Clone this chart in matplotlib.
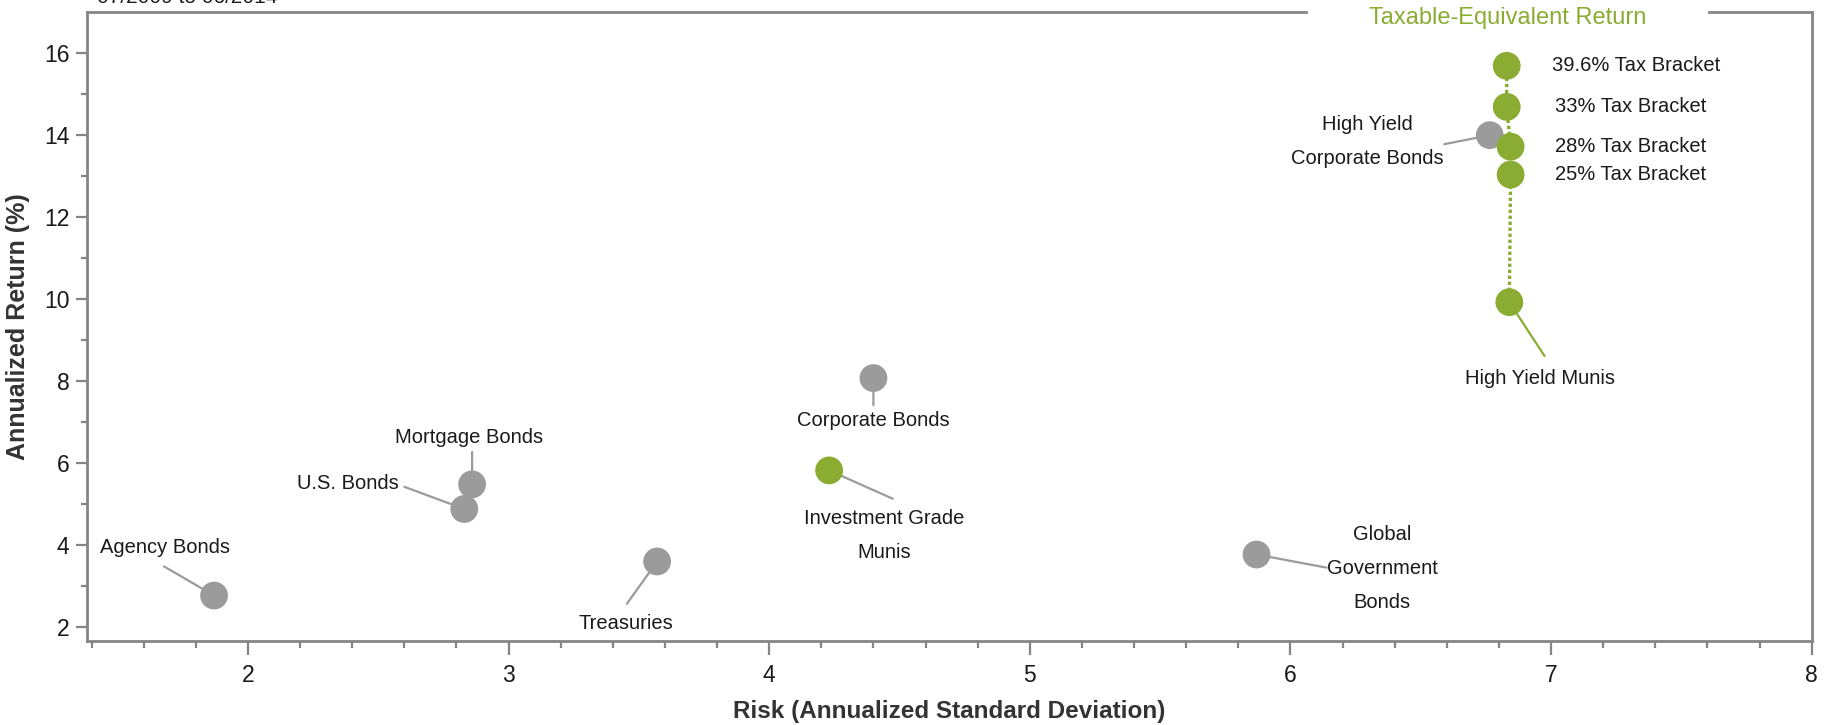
import matplotlib
matplotlib.use("Agg")
import matplotlib.pyplot as plt

plt.rcParams['font.family'] = ['Liberation Sans Narrow', 'Liberation Sans', 'DejaVu Sans']

# data
names = ['Agency Bonds', 'U.S. Bonds', 'Mortgage Bonds', 'Treasuries', 'Corporate Bonds',
         'Investment Grade\nMunis', 'Global\nGovernment\nBonds', 'High Yield\nCorporate Bonds',
         'High Yield Munis']
risk = [1.87, 2.83, 2.86, 3.57, 4.40, 4.23, 5.87, 6.765, 6.84]
ret = [2.77, 4.88, 5.48, 3.60, 8.07, 5.82, 3.77, 13.99, 9.92]
is_muni = [False, False, False, False, False, True, False, False, True]

brackets = ['39.6% Tax Bracket', '33% Tax Bracket', '28% Tax Bracket', '25% Tax Bracket']
bracket_risk = [6.83, 6.83, 6.845, 6.845]
bracket_ret = [15.68, 14.68, 13.71, 13.03]

# label layout (data coords): text position, alignment, leader line start
label_pos = [(1.682, 3.94), (2.577, 5.50), (2.85, 6.62), (3.45, 2.09), (4.40, 7.04),
             (4.44, 4.23), (6.353, 3.43), (6.295, 13.83), (6.957, 8.07)]
label_ha = ['center', 'right', 'center', 'center', 'center', 'center', 'center', 'center', 'center']
leader_start = [(1.678, 3.48), (2.60, 5.42), (2.86, 6.27), (3.454, 2.57), (4.40, 7.41),
                (4.474, 5.13), (6.139, 3.45), (6.59, 13.77), (6.975, 8.61)]
bracket_label_x = [7.002, 7.016, 7.016, 7.016]

gray = '#9b9b9b'
green = '#8aac32'
spine = '#858585'
txt = '#1a1a1a'

fig = plt.figure(figsize=(18.29, 7.25), dpi=100)
ax = fig.add_axes([0.0478, 0.1163, 0.9427, 0.8676])

# dotted connector for taxable-equivalent returns
ax.plot(bracket_risk + [risk[8]], bracket_ret + [ret[8]], color=green, lw=2.4,
        linestyle=(0, (1, 0.8)), zorder=2)

colors = [green if m else gray for m in is_muni]
ax.scatter(risk, ret, s=400, c=colors, edgecolors='none', zorder=3)
ax.scatter(bracket_risk, bracket_ret, s=400, c=green, edgecolors='none', zorder=4)

for i, name in enumerate(names):
    lc = green if i == 8 else gray
    ax.annotate('', xy=(risk[i], ret[i]), xytext=leader_start[i],
                arrowprops=dict(arrowstyle='-', color=lc, lw=1.6, shrinkA=0, shrinkB=9),
                zorder=1)
    ax.text(label_pos[i][0], label_pos[i][1], name, ha=label_ha[i], va='center',
            fontsize=14.5, color=txt, linespacing=2.0)

for i, b in enumerate(brackets):
    ax.text(bracket_label_x[i], bracket_ret[i], b, ha='left', va='center',
            fontsize=14.5, color=txt)

ax.set_xlim(1.384, 8.0)
ax.set_ylim(1.67, 17.0)
ax.set_xticks([2, 3, 4, 5, 6, 7, 8])
ax.set_xticks([1.4 + 0.2 * k for k in range(33)], minor=True)
ax.set_yticks([2, 4, 6, 8, 10, 12, 14, 16])
ax.set_yticks(list(range(2, 17)), minor=True)

for s in ['left', 'bottom', 'right']:
    ax.spines[s].set_color(spine)
    ax.spines[s].set_linewidth(2)
ax.spines['top'].set_visible(False)
# top border with a gap for the legend title
ax.plot([0, 0.707], [1, 1], transform=ax.transAxes, color=spine, lw=2, clip_on=False)
ax.plot([0.9405, 1], [1, 1], transform=ax.transAxes, color=spine, lw=2, clip_on=False)
ax.text(0.824, 0.99, 'Taxable-Equivalent Return', transform=ax.transAxes, ha='center',
        va='center', fontsize=17, color=green)

ax.tick_params(axis='both', which='major', length=8, width=1.6, color=spine,
               labelsize=16.5, labelcolor=txt, pad=5)
ax.tick_params(axis='both', which='minor', length=4, width=1.6, color=spine)
ax.tick_params(axis='x', which='major', length=10, pad=7)
ax.tick_params(axis='x', which='minor', length=5)

ax.set_xlabel('Risk (Annualized Standard Deviation)', fontsize=17.5, fontweight='bold',
              color='#333333', labelpad=9)
ax.set_ylabel('Annualized Return (%)', fontsize=18, fontweight='bold', color='#333333',
              labelpad=10)

# period note, cut off at the top edge as in the source
fig.text(0.053, 0.9959, '07/2009 to 06/2014', fontsize=15, color=txt, va='baseline', ha='left')

fig.savefig('out.png', dpi=100)
